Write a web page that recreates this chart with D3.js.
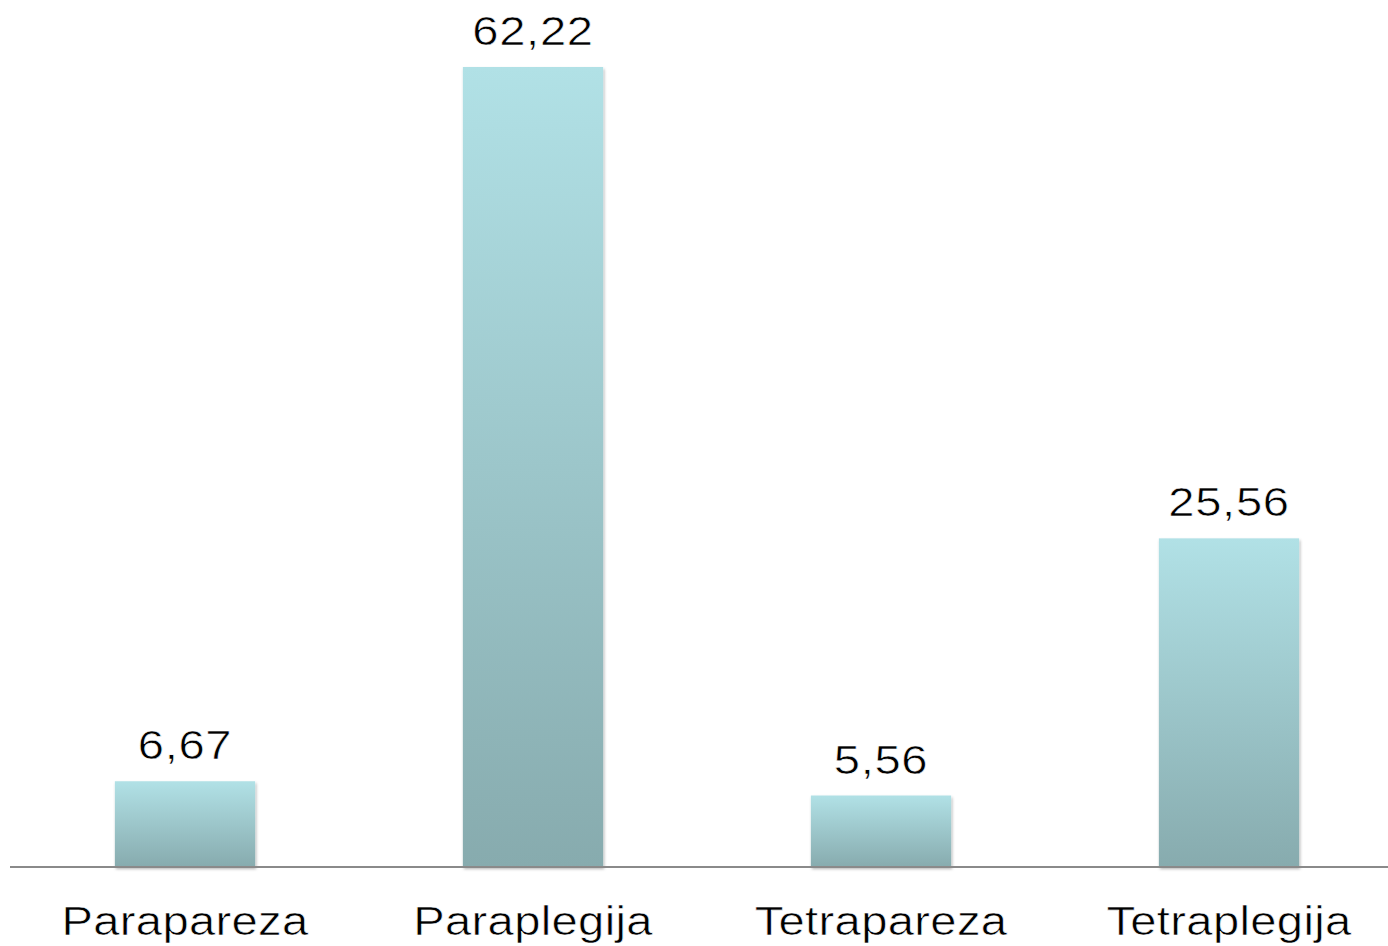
<!DOCTYPE html>
<html>
<head>
    <meta charset="utf-8">
    <script src="https://d3js.org/d3.v7.min.js"></script>
    <style>
        body { margin: 0; background: #fff; }
        svg { display: block; }
        text {
            font-family: "Liberation Sans", Arial, Helvetica, sans-serif;
            fill: #000;
            stroke: #fff;
            stroke-width: 0.6px;
        }
        .value { font-size: 41px; letter-spacing: 0.6px; }
        .tick-label { font-size: 41px; letter-spacing: 0.3px; }
        .baseline { stroke: #8a8a8a; stroke-width: 2; }
    </style>
</head>
<body>
    <svg></svg>
    <script>
        // Datos
        const categories = ["Parapareza", "Paraplegija", "Tetrapareza", "Tetraplegija"];
        const values = [6.67, 62.22, 5.56, 25.56];
        const valueLabels = ["6,67", "62,22", "5,56", "25,56"];

        const width = 1388;
        const height = 946;
        const baseY = 867;
        const stretch = 1.15; // letras más anchas que Arial

        const svg = d3.select("svg")
            .attr("width", width)
            .attr("height", height);

        const defs = svg.append("defs");

        const grad = defs.append("linearGradient")
            .attr("id", "barGrad")
            .attr("x1", 0).attr("y1", 0)
            .attr("x2", 0).attr("y2", 1);
        grad.append("stop").attr("offset", "0%").attr("stop-color", "#b1e1e6");
        grad.append("stop").attr("offset", "100%").attr("stop-color", "#87abae");

        const shadow = defs.append("filter")
            .attr("id", "shadow")
            .attr("x", "-10%").attr("y", "-10%")
            .attr("width", "130%").attr("height", "130%");
        shadow.append("feDropShadow")
            .attr("dx", 1).attr("dy", 2)
            .attr("stdDeviation", 1.6)
            .attr("flood-color", "#000")
            .attr("flood-opacity", 0.3);

        // Escalas
        const x = d3.scaleBand()
            .domain(categories)
            .range([11, 1403])
            .paddingInner(0.597)
            .paddingOuter(0.2985);

        const y = d3.scaleLinear()
            .domain([0, 62.22])
            .range([baseY, 67]);

        const data = categories.map((c, i) => ({ cat: c, value: values[i], label: valueLabels[i] }));

        // Barras
        svg.append("g")
            .selectAll("rect")
            .data(data)
            .join("rect")
            .attr("x", d => x(d.cat))
            .attr("y", d => y(d.value))
            .attr("width", x.bandwidth())
            .attr("height", d => y(0) - y(d.value))
            .attr("fill", "url(#barGrad)")
            .attr("filter", "url(#shadow)");

        // Línea base
        svg.append("line")
            .attr("class", "baseline")
            .attr("x1", 10)
            .attr("x2", width)
            .attr("y1", baseY)
            .attr("y2", baseY);

        // Valores
        svg.append("g")
            .selectAll("text")
            .data(data)
            .join("text")
            .attr("class", "value")
            .attr("text-anchor", "middle")
            .attr("transform", d => `translate(${x(d.cat) + x.bandwidth() / 2},${y(d.value) - 22}) scale(${stretch},1)`)
            .text(d => d.label);

        // Etiquetas del eje
        const xAxis = d3.axisBottom(x).tickSize(0).tickPadding(0);
        const axisG = svg.append("g")
            .attr("transform", `translate(0,${baseY})`)
            .call(xAxis);
        axisG.select(".domain").remove();
        axisG.attr("font-size", null).attr("font-family", null);
        axisG.selectAll("text")
            .attr("class", "tick-label")
            .attr("dy", null)
            .attr("y", 0)
            .attr("transform", `translate(0,68) scale(${stretch},1)`)
            .attr("fill", "#000");
    </script>
</body>
</html>
